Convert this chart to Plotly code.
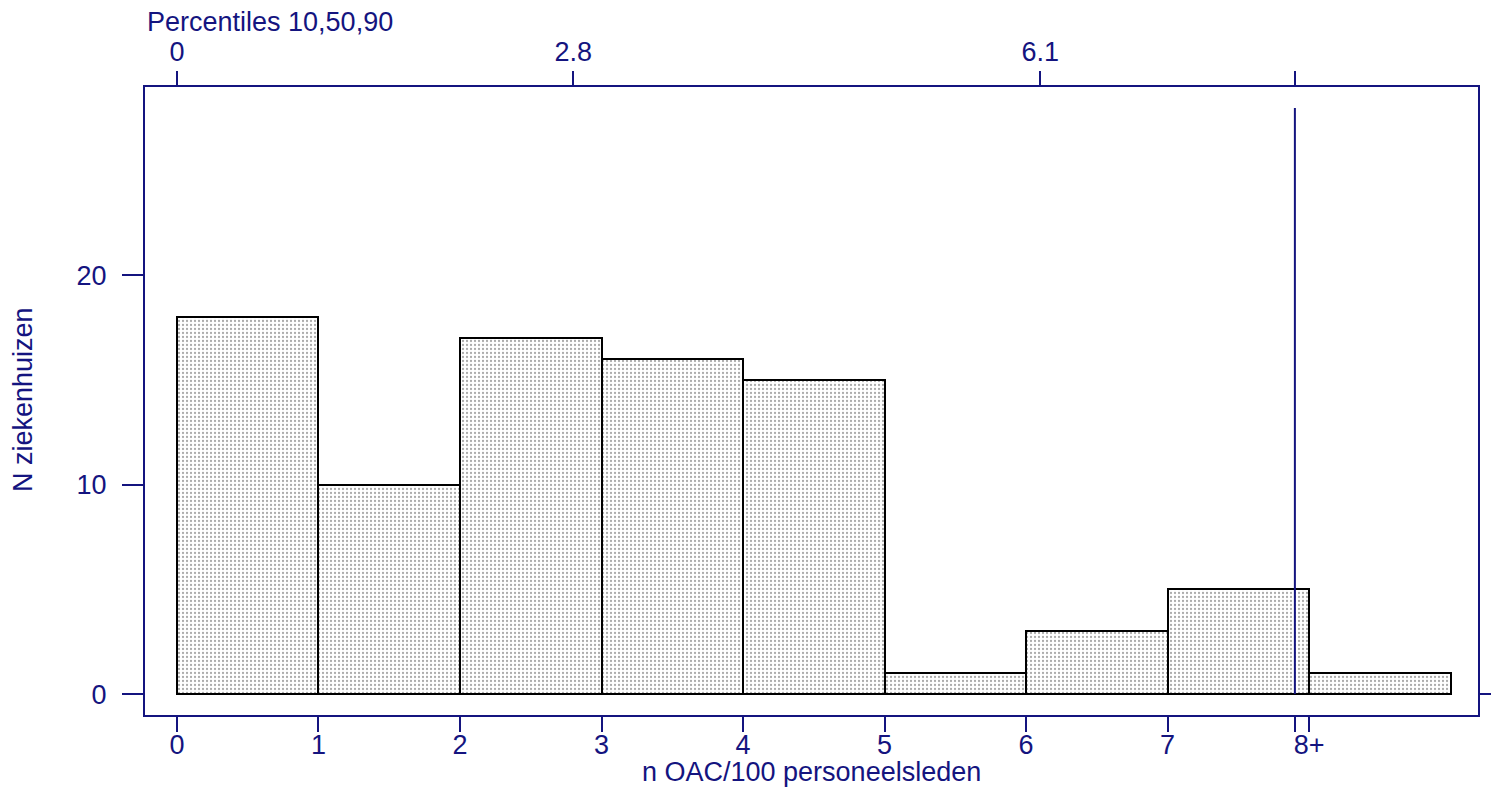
import plotly.graph_objects as go

# Data
bin_starts = [0, 1, 2, 3, 4, 5, 6, 7, 8]
counts = [18, 10, 17, 16, 15, 1, 3, 5, 1]
x_tickvals = [0, 1, 2, 3, 4, 5, 6, 7, 8, 7.9]
x_ticktext = ["0", "1", "2", "3", "4", "5", "6", "7", "8+", ""]
pct_tickvals = [0, 2.8, 6.1, 7.9]
pct_ticktext = ["0", "2.8", "6.1", ""]
marker_value = 7.9
marker_top = 28
y_tickvals = [0, 10, 20]

NAVY = "#14147f"
FONT = dict(family="Liberation Sans, Arial, sans-serif", size=27, color=NAVY)
xr = [-0.226, 9.194]
yr = [-1, 29]

fig = go.Figure()

# vertical reference line (behind bars)
fig.add_trace(go.Scatter(
    x=[marker_value, marker_value], y=[0, marker_top], mode="lines",
    line=dict(color=NAVY, width=2), xaxis="x2", yaxis="y", showlegend=False,
    hoverinfo="skip"))

fig.add_trace(go.Bar(
    x=[b + 0.5 for b in bin_starts], y=counts, width=1,
    marker=dict(color="white",
                line=dict(color="black", width=2),
                pattern=dict(shape=".", fgcolor="#555555", bgcolor="white",
                             size=4, solidity=0.25, fillmode="overlay")),
    showlegend=False))

# invisible trace for the right axis
fig.add_trace(go.Scatter(x=[0], y=[0], mode="markers", marker=dict(opacity=0),
                         xaxis="x", yaxis="y2", showlegend=False, hoverinfo="skip"))

fig.update_layout(
    width=1491, height=787,
    margin=dict(l=145, r=13, t=87, b=72),
    paper_bgcolor="white", plot_bgcolor="white",
    font=FONT, bargap=0,
    xaxis=dict(range=xr, tickmode="array", tickvals=x_tickvals, ticktext=x_ticktext,
               ticks="outside", ticklen=15, tickwidth=2, tickcolor=NAVY,
               showline=True, linecolor=NAVY, linewidth=2, mirror=True, automargin=False,
               showgrid=False, zeroline=False, tickfont=FONT, ticklabelstandoff=-10),
    xaxis2=dict(range=xr, overlaying="x", side="top", tickmode="array",
                tickvals=pct_tickvals, ticktext=pct_ticktext, automargin=False,
                ticks="outside", ticklen=15, tickwidth=2, tickcolor=NAVY,
                showline=False, showgrid=False, zeroline=False, tickfont=FONT,
                ticklabelstandoff=-1),
    yaxis=dict(range=yr, tickmode="array", tickvals=y_tickvals,
               ticks="outside", ticklen=21, tickwidth=2, tickcolor=NAVY,
               showline=True, linecolor=NAVY, linewidth=2, mirror=True, automargin=False,
               showgrid=False, zeroline=False, tickfont=FONT, ticklabelstandoff=10),
    yaxis2=dict(range=yr, overlaying="y", side="right", tickmode="array",
                tickvals=[0], showticklabels=False, automargin=False,
                ticks="outside", ticklen=21, tickwidth=2, tickcolor=NAVY,
                showline=False, showgrid=False, zeroline=False),
    annotations=[
        dict(text="Percentiles 10,50,90", xref="paper", yref="paper", x=0, y=1 + 65 / 628,
             xanchor="left", yanchor="middle", showarrow=False, font=FONT),
        dict(text="n OAC/100 personeelsleden", xref="paper", yref="paper", x=0.5,
             y=-(772 - 715) / 628, xanchor="center", yanchor="middle",
             showarrow=False, font=FONT),
        dict(text="N ziekenhuizen", xref="paper", yref="paper", x=(23 - 145) / 1333,
             y=(715 - 400) / 628, xanchor="center", yanchor="middle", textangle=-90,
             showarrow=False, font=FONT),
    ],
)

fig.write_html("out.html", config={"displayModeBar": False},
               post_script="document.body.style.margin='0px';document.body.style.overflow='hidden';")
